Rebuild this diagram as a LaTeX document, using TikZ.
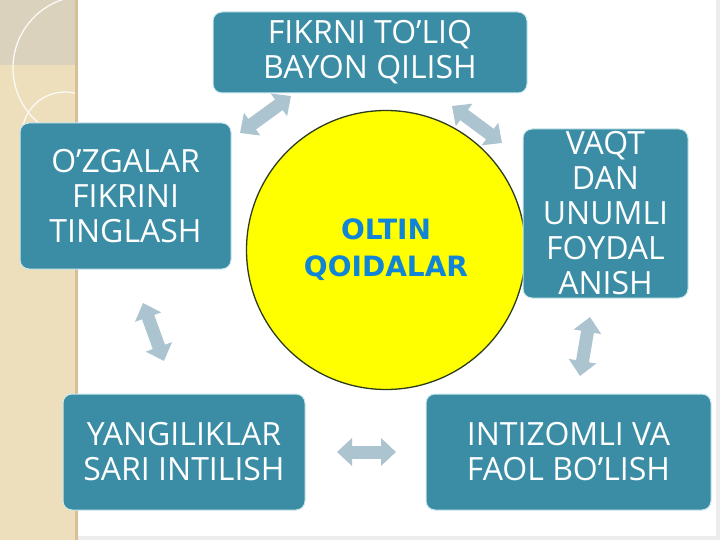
\documentclass[tikz,border=0pt]{standalone}
\usepackage{fontspec}
\setmainfont{Open Sans}
\newfontfamily\titlefont{DejaVu Sans}
\usetikzlibrary{arrows.meta}
\definecolor{boxteal}{RGB}{59,141,165}
\definecolor{boxedge}{RGB}{205,232,238}
\definecolor{arrowgray}{RGB}{172,196,208}
\definecolor{titleblue}{RGB}{16,132,214}
\definecolor{circline}{RGB}{45,60,25}
\definecolor{goldfill}{RGB}{255,255,0}
\definecolor{beige}{RGB}{237,223,188}
\definecolor{beigedark}{RGB}{219,210,190}
\definecolor{beigeedge}{RGB}{214,192,150}
\definecolor{pagegray}{RGB}{236,236,236}
\tikzset{
  infobox/.style={rectangle, rounded corners=9pt, fill=boxteal, draw=boxedge,
    line width=1pt, text=white, align=center, inner sep=0pt,
    font=\fontsize{32}{35}\selectfont},
  blockarrow/.style={draw=arrowgray, line width=13pt,
    arrows={Triangle[width=27pt,length=15pt]-Triangle[width=27pt,length=15pt]}},
}
\begin{document}
\begin{tikzpicture}[x=1pt,y=-1pt]
\useasboundingbox (0,0) rectangle (720,540);
% page background
\fill[white] (0,0) rectangle (720,540);
\fill[pagegray] (0,536) rectangle (720,540);
\fill[pagegray] (716,0) rectangle (720,540);
% decorative left strip
\fill[beige] (0,0) rectangle (78,540);
\fill[beigedark] (0,0) rectangle (78,65);
\fill[beigeedge] (75,0) rectangle (78,540);
\begin{scope}
  \clip (0,0) rectangle (75,540);
  \draw[white!85!beige, line width=1.3pt] (85,68) circle (72);
  \draw[white!80!beige, line width=1.3pt] (65,135) circle (43);
\end{scope}
% central circle
\node[circle, fill=goldfill, draw=circline, line width=1.3pt, minimum size=279pt,
  inner sep=0pt, text=titleblue, align=center,
  font=\titlefont\bfseries\fontsize{28}{37}\selectfont] (gold) at (386,250) {OLTIN\\QOIDALAR};
% boxes
\node[infobox, minimum width=314pt, minimum height=81pt] (top) at (370,52.5)
  {FIKRNI TO’LIQ\\BAYON QILISH};
\node[infobox, minimum width=211pt, minimum height=146pt] (left) at (125.5,196)
  {O’ZGALAR\\FIKRINI\\TINGLASH};
\node[infobox, minimum width=165pt, minimum height=169pt] (right) at (605.5,213.5)
  {VAQT\\DAN\\UNUMLI\\FOYDAL\\ANISH};
\node[infobox, minimum width=242pt, minimum height=116pt] (botleft) at (184,452)
  {YANGILIKLAR\\SARI INTILISH};
\node[infobox, minimum width=285pt, minimum height=116pt] (botright) at (568.5,452)
  {INTIZOMLI VA\\FAOL BO’LISH};
% arrows
\coordinate (a1s) at (240,133); \coordinate (a1e) at (291,96);
\coordinate (a2s) at (452,106); \coordinate (a2e) at (502,143);
\coordinate (a3s) at (590,317); \coordinate (a3e) at (580,376);
\coordinate (a4s) at (337,452); \coordinate (a4e) at (396,452);
\coordinate (a5s) at (143,303); \coordinate (a5e) at (164,361);
\draw[blockarrow] (a1s) -- (a1e);
\draw[blockarrow] (a2s) -- (a2e);
\draw[blockarrow] (a3s) -- (a3e);
\draw[blockarrow] (a4s) -- (a4e);
\draw[blockarrow] (a5s) -- (a5e);
\end{tikzpicture}
\end{document}
